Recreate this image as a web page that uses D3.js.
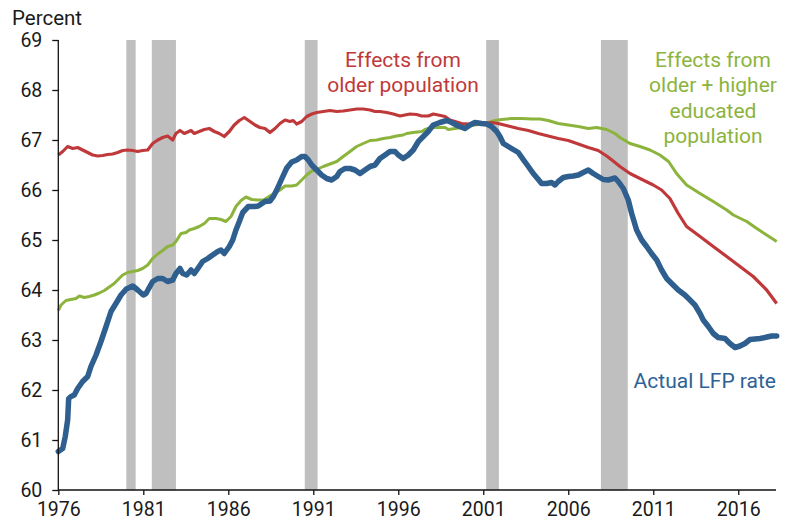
<!DOCTYPE html>
<html>
<head>
<meta charset="utf-8">
<script src="https://cdn.jsdelivr.net/npm/d3@7"></script>
<style>
  html, body { margin: 0; padding: 0; background: #fff; }
  svg { display: block; font-family: Roboto, "Noto Sans", sans-serif; }
</style>
</head>
<body>
<svg id="chart" width="791" height="520"></svg>
<script>
// ---- Data ----
const yTicks = [60, 61, 62, 63, 64, 65, 66, 67, 68, 69];
const xTicks = [1976, 1981, 1986, 1991, 1996, 2001, 2006, 2011, 2016];

// Recession periods (start year, end year as fractional years)
const recessions = [[1980.0, 1980.55], [1981.5, 1982.92], [1990.5, 1991.25], [2001.17, 2001.92], [2007.92, 2009.5]];

// Actual LFP rate
const actual = [
  [1976.0, 60.77], [1976.26, 60.83], [1976.41, 61.07], [1976.55, 61.4], [1976.61, 61.83], [1976.75, 61.87],
  [1976.94, 61.9], [1977.14, 62.03], [1977.43, 62.17], [1977.73, 62.27], [1977.92, 62.47], [1978.22, 62.7],
  [1978.51, 62.97], [1978.81, 63.27], [1979.1, 63.57], [1979.39, 63.73], [1979.69, 63.9], [1980.0, 64.02],
  [1980.38, 64.08], [1980.67, 64.0], [1981.0, 63.9], [1981.16, 63.93], [1981.55, 64.17], [1981.85, 64.23],
  [1982.14, 64.23], [1982.43, 64.17], [1982.73, 64.2], [1982.92, 64.33], [1983.16, 64.43], [1983.32, 64.33],
  [1983.55, 64.3], [1983.81, 64.4], [1984.0, 64.33], [1984.29, 64.47], [1984.49, 64.57], [1984.79, 64.63],
  [1985.08, 64.7], [1985.38, 64.77], [1985.57, 64.8], [1985.76, 64.73], [1986.06, 64.87], [1986.26, 65.0],
  [1986.45, 65.2], [1986.65, 65.37], [1986.85, 65.55], [1987.18, 65.67], [1987.57, 65.67], [1987.76, 65.68],
  [1988.16, 65.77], [1988.45, 65.78], [1988.65, 65.87], [1988.85, 66.0], [1989.14, 66.22], [1989.44, 66.44],
  [1989.73, 66.56], [1990.02, 66.6], [1990.32, 66.67], [1990.51, 66.67], [1990.71, 66.6], [1990.91, 66.5],
  [1991.2, 66.4], [1991.49, 66.3], [1991.79, 66.23], [1992.08, 66.2], [1992.38, 66.27], [1992.57, 66.37],
  [1992.86, 66.43], [1993.16, 66.43], [1993.45, 66.4], [1993.75, 66.33], [1994.04, 66.4], [1994.34, 66.47],
  [1994.63, 66.5], [1994.92, 66.63], [1995.22, 66.7], [1995.51, 66.77], [1995.81, 66.77], [1996.0, 66.7],
  [1996.29, 66.63], [1996.59, 66.7], [1996.88, 66.8], [1997.18, 66.97], [1997.47, 67.07], [1997.76, 67.17],
  [1998.06, 67.3], [1998.45, 67.35], [1998.85, 67.39], [1999.14, 67.35], [1999.53, 67.28], [1999.92, 67.23],
  [2000.22, 67.3], [2000.51, 67.35], [2000.9, 67.33], [2001.2, 67.32], [2001.49, 67.27], [2001.79, 67.17],
  [2001.98, 67.07], [2002.18, 66.93], [2002.47, 66.87], [2002.76, 66.81], [2003.06, 66.75], [2003.35, 66.61],
  [2003.65, 66.47], [2003.94, 66.33], [2004.24, 66.21], [2004.43, 66.13], [2004.73, 66.13], [2005.02, 66.15],
  [2005.22, 66.1], [2005.41, 66.17], [2005.71, 66.25], [2006.0, 66.27], [2006.29, 66.28], [2006.59, 66.3],
  [2006.88, 66.35], [2007.18, 66.4], [2007.47, 66.33], [2007.76, 66.27], [2008.06, 66.21], [2008.35, 66.2],
  [2008.75, 66.24], [2008.94, 66.17], [2009.24, 66.03], [2009.53, 65.8], [2009.73, 65.53], [2010.02, 65.2],
  [2010.32, 65.0], [2010.61, 64.87], [2010.9, 64.73], [2011.2, 64.6], [2011.49, 64.4], [2011.79, 64.23],
  [2012.08, 64.13], [2012.47, 64.0], [2012.86, 63.9], [2013.16, 63.8], [2013.45, 63.7], [2013.75, 63.53],
  [2013.94, 63.4], [2014.24, 63.27], [2014.53, 63.13], [2014.82, 63.05], [2015.22, 63.03], [2015.51, 62.93],
  [2015.81, 62.85], [2016.1, 62.88], [2016.39, 62.93], [2016.69, 63.01], [2017.28, 63.03], [2017.57, 63.05],
  [2017.96, 63.08], [2018.26, 63.08]
];

// Effects from older population
const older = [
  [1976.0, 66.7], [1976.26, 66.77], [1976.55, 66.87], [1976.85, 66.83], [1977.14, 66.85], [1977.43, 66.8],
  [1977.73, 66.75], [1978.02, 66.7], [1978.32, 66.68], [1978.61, 66.69], [1978.9, 66.71], [1979.2, 66.72],
  [1979.49, 66.75], [1979.79, 66.79], [1980.08, 66.8], [1980.38, 66.79], [1980.67, 66.77], [1980.96, 66.79],
  [1981.26, 66.8], [1981.55, 66.93], [1981.85, 67.0], [1982.14, 67.05], [1982.43, 67.08], [1982.73, 67.0],
  [1982.92, 67.13], [1983.16, 67.19], [1983.41, 67.13], [1983.81, 67.19], [1984.0, 67.13], [1984.29, 67.17],
  [1984.59, 67.21], [1984.88, 67.23], [1985.18, 67.17], [1985.47, 67.13], [1985.76, 67.07], [1986.06, 67.17],
  [1986.35, 67.3], [1986.65, 67.39], [1986.94, 67.45], [1987.28, 67.37], [1987.57, 67.3], [1987.86, 67.25],
  [1988.16, 67.23], [1988.45, 67.15], [1988.75, 67.23], [1989.04, 67.33], [1989.34, 67.4], [1989.63, 67.37],
  [1989.82, 67.39], [1990.02, 67.32], [1990.32, 67.37], [1990.61, 67.47], [1990.91, 67.52], [1991.2, 67.55],
  [1991.59, 67.57], [1991.98, 67.59], [1992.38, 67.57], [1992.76, 67.58], [1993.16, 67.6], [1993.55, 67.62],
  [1993.94, 67.62], [1994.34, 67.6], [1994.63, 67.57], [1994.92, 67.57], [1995.32, 67.55], [1995.71, 67.52],
  [1996.1, 67.48], [1996.39, 67.5], [1996.69, 67.52], [1997.08, 67.51], [1997.38, 67.48], [1997.76, 67.48],
  [1998.06, 67.52], [1998.35, 67.5], [1998.75, 67.47], [1999.04, 67.4], [1999.34, 67.37], [1999.73, 67.33],
  [2000.12, 67.32], [2000.51, 67.32], [2001.0, 67.33], [2001.49, 67.35], [2001.88, 67.33], [2002.47, 67.28],
  [2003.06, 67.23], [2003.65, 67.19], [2004.24, 67.13], [2004.82, 67.08], [2005.41, 67.03], [2006.0, 66.99],
  [2006.59, 66.92], [2007.18, 66.85], [2007.76, 66.79], [2008.26, 66.68], [2008.75, 66.55], [2009.04, 66.47],
  [2009.63, 66.33], [2010.22, 66.23], [2011.0, 66.1], [2011.49, 66.0], [2011.98, 65.83], [2012.47, 65.53],
  [2012.96, 65.27], [2013.75, 65.07], [2014.53, 64.87], [2015.32, 64.67], [2016.1, 64.47], [2016.88, 64.27],
  [2017.67, 64.0], [2018.26, 63.73]
];

// Effects from older + higher educated population
const olderEducated = [
  [1976.0, 63.59], [1976.16, 63.7], [1976.45, 63.79], [1976.75, 63.81], [1977.04, 63.83], [1977.24, 63.88],
  [1977.53, 63.85], [1977.82, 63.87], [1978.12, 63.9], [1978.41, 63.94], [1978.71, 63.99], [1979.0, 64.06],
  [1979.29, 64.13], [1979.49, 64.2], [1979.79, 64.3], [1980.08, 64.35], [1980.67, 64.39], [1980.96, 64.43],
  [1981.26, 64.5], [1981.55, 64.63], [1981.85, 64.72], [1982.14, 64.79], [1982.43, 64.87], [1982.73, 64.9],
  [1982.92, 64.97], [1983.22, 65.13], [1983.51, 65.15], [1983.71, 65.2], [1984.0, 65.23], [1984.29, 65.27],
  [1984.59, 65.33], [1984.88, 65.43], [1985.28, 65.43], [1985.57, 65.41], [1985.86, 65.37], [1986.16, 65.47],
  [1986.45, 65.67], [1986.75, 65.79], [1987.04, 65.86], [1987.38, 65.81], [1987.76, 65.8], [1988.07, 65.8],
  [1988.55, 65.9], [1989.04, 66.0], [1989.34, 66.08], [1989.73, 66.08], [1990.02, 66.1], [1990.32, 66.2],
  [1990.61, 66.3], [1990.91, 66.38], [1991.2, 66.41], [1991.59, 66.47], [1991.98, 66.52], [1992.38, 66.57],
  [1992.76, 66.67], [1993.16, 66.77], [1993.55, 66.87], [1993.94, 66.93], [1994.34, 66.99], [1994.73, 67.0],
  [1995.12, 67.03], [1995.51, 67.05], [1995.9, 67.08], [1996.29, 67.1], [1996.49, 67.13], [1996.88, 67.15],
  [1997.38, 67.17], [1997.57, 67.21], [1997.96, 67.25], [1998.75, 67.25], [1998.94, 67.21], [1999.34, 67.23],
  [1999.73, 67.25], [2000.12, 67.28], [2000.51, 67.3], [2000.9, 67.32], [2001.29, 67.35], [2001.69, 67.39],
  [2002.08, 67.41], [2002.67, 67.43], [2003.26, 67.43], [2003.85, 67.42], [2004.34, 67.42], [2004.82, 67.39],
  [2005.41, 67.33], [2006.0, 67.3], [2006.59, 67.27], [2007.18, 67.23], [2007.67, 67.25], [2008.26, 67.21],
  [2008.75, 67.13], [2009.04, 67.05], [2009.63, 66.93], [2010.22, 66.87], [2010.81, 66.8], [2011.39, 66.7],
  [2011.9, 66.57], [2012.37, 66.33], [2012.96, 66.1], [2013.75, 65.93], [2014.53, 65.77], [2015.32, 65.6],
  [2015.71, 65.5], [2016.5, 65.37], [2017.09, 65.23], [2017.67, 65.1], [2018.26, 64.97]
];

// ---- Layout ----
const svg = d3.select("#chart");
const mLeft = 58.3, mRight = 776, mTop = 40, mBottom = 490;
const x = d3.scaleLinear().domain([1976, 2018.22]).range([mLeft, mRight]);
const y = d3.scaleLinear().domain([60, 69]).range([mBottom, mTop]);

const colors = { actual: "#2e5f8e", older: "#c0393a", edu: "#8cb43d" };

// Recession bars
svg.append("g").selectAll("rect").data(recessions).join("rect")
  .attr("x", d => x(d[0]))
  .attr("width", d => x(d[1]) - x(d[0]))
  .attr("y", y(69))
  .attr("height", y(60) - y(69))
  .attr("fill", "#bfbfbf");

// Lines
const line = d3.line().x(d => x(d[0])).y(d => y(d[1])).curve(d3.curveLinear);
svg.append("path").datum(olderEducated).attr("d", line)
  .attr("fill", "none").attr("stroke", colors.edu).attr("stroke-width", 3).attr("stroke-linejoin", "round");
svg.append("path").datum(older).attr("d", line)
  .attr("fill", "none").attr("stroke", colors.older).attr("stroke-width", 3.2).attr("stroke-linejoin", "round");
svg.append("path").datum(actual).attr("d", line)
  .attr("fill", "none").attr("stroke", colors.actual).attr("stroke-width", 5.5).attr("stroke-linejoin", "round")
  .attr("stroke-linecap", "round");

// Axes
const yAxis = d3.axisLeft(y).tickValues(yTicks).tickSize(6).tickPadding(10).tickFormat(d3.format("d"));
const xAxis = d3.axisBottom(x).tickValues(xTicks).tickSize(5).tickPadding(7).tickFormat(d3.format("d"));

const gy = svg.append("g").attr("transform", `translate(${mLeft},0)`).call(yAxis);
const gx = svg.append("g").attr("transform", `translate(0,${mBottom})`).call(xAxis);
[gy, gx].forEach(g => {
  g.select(".domain").attr("stroke", "#111").attr("stroke-width", 1.3);
  g.selectAll(".tick line").attr("stroke", "#111").attr("stroke-width", 1.3);
  g.selectAll(".tick text").attr("fill", "#1a1a1a").style("font-size", "19.5px")
    .style("font-family", "Roboto, 'Noto Sans', sans-serif");
});
gy.select(".domain").attr("d", `M0,${mBottom}V${mTop}`);
gx.select(".domain").attr("d", `M${mLeft},0H${mRight}`);

// Axis unit label
svg.append("text").attr("x", 12).attr("y", 25).text("Percent")
  .attr("fill", "#1a1a1a").style("font-size", "20.5px");

// Annotations
function multiline(lines, cx, y0, dy, color, anchor) {
  const t = svg.append("text").attr("fill", color).style("font-size", "21px").attr("text-anchor", anchor);
  lines.forEach((s, i) => t.append("tspan").attr("x", cx).attr("y", y0 + i * dy).text(s));
}
multiline(["Effects from", "older population"], 403, 67, 25, colors.older, "middle");
multiline(["Effects from", "older + higher", "educated", "population"], 713, 67, 25.3, colors.edu, "middle");
multiline(["Actual LFP rate"], 776, 388, 25, "#2e6296", "end");
</script>
</body>
</html>
